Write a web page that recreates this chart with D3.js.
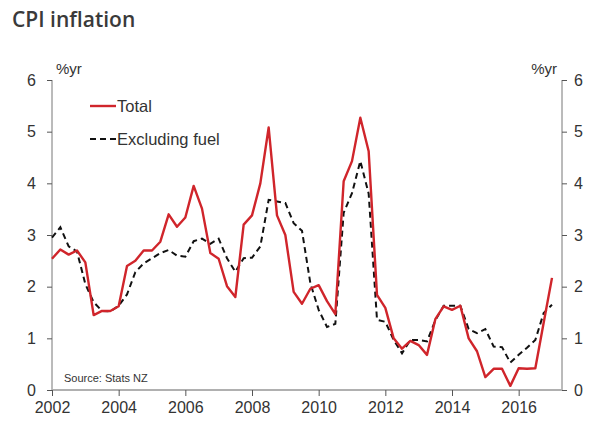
<!DOCTYPE html>
<html>
<head>
<meta charset="utf-8">
<script src="https://cdn.jsdelivr.net/npm/d3@7"></script>
<style>
	body { margin: 0; background: #fff; }
	text { font-family: "Liberation Sans", Arial, sans-serif; fill: #333; }
</style>
</head>
<body>
<svg id="chart" width="600" height="430"></svg>
<script>
// quarterly, first point is 2002 Q1
var startYear = 2002;
var yearTicks = [2002, 2004, 2006, 2008, 2010, 2012, 2014, 2016];
var valueTicks = [0, 1, 2, 3, 4, 5, 6];

var total = [
	2.54, 2.72, 2.62, 2.70,
	2.47, 1.45, 1.53, 1.53,
	1.62, 2.40, 2.50, 2.70,
	2.70, 2.87, 3.40, 3.16,
	3.34, 3.95, 3.51, 2.65,
	2.54, 2.01, 1.80, 3.20,
	3.38, 4.00, 5.08, 3.38,
	3.00, 1.90, 1.67, 1.96,
	2.03, 1.72, 1.47, 4.04,
	4.43, 5.27, 4.62, 1.84,
	1.59, 1.00, 0.80, 0.95,
	0.87, 0.68, 1.37, 1.62,
	1.55, 1.63, 1.00, 0.75,
	0.25, 0.41, 0.41, 0.08,
	0.42, 0.41, 0.42, 1.30,
	2.17
];

var exFuel = [
	2.95, 3.15, 2.78, 2.68,
	2.05, 1.70, 1.53, 1.52,
	1.63, 1.85, 2.28, 2.45,
	2.55, 2.65, 2.71, 2.60,
	2.58, 2.88, 2.93, 2.83,
	2.93, 2.55, 2.29, 2.55,
	2.56, 2.78, 3.68, 3.65,
	3.62, 3.23, 3.08, 2.07,
	1.55, 1.22, 1.28, 3.43,
	3.81, 4.43, 3.80, 1.36,
	1.32, 0.97, 0.71, 0.97,
	0.97, 0.94, 1.35, 1.63,
	1.63, 1.63, 1.18, 1.10,
	1.18, 0.84, 0.83, 0.53,
	0.68, 0.82, 0.97, 1.49,
	1.65
];

var svg = d3.select("#chart");
var plotL = 52, plotR = 562, plotT = 80, plotB = 390;

var x = d3.scaleLinear().domain([2002, 2017.3]).range([plotL, plotR]);
var y = d3.scaleLinear().domain([0, 6]).range([plotB, plotT]);

// title
svg.append("text")
	.attr("x", 12)
	.attr("y", 27)
	.text("CPI inflation")
	.style("font-family", "'Open Sans', sans-serif")
	.style("font-weight", 600)
	.style("font-size", "21px")
	.style("fill", "#3a3a3a");

// left axis
var yLeft = svg.append("g")
	.attr("transform", "translate(" + plotL + ",0)")
	.call(d3.axisLeft(y).tickValues(valueTicks).tickFormat(d3.format("d")).tickSize(5).tickPadding(11));
// right axis
var yRight = svg.append("g")
	.attr("transform", "translate(" + plotR + ",0)")
	.call(d3.axisRight(y).tickValues(valueTicks).tickFormat(d3.format("d")).tickSize(5).tickPadding(7));

[yLeft, yRight].forEach(function(g) {
	g.select(".domain").attr("stroke", "#777").attr("d", "M0," + plotT + "V" + plotB);
	g.selectAll(".tick line").attr("stroke", "#555");
	g.selectAll(".tick text")
		.style("font-size", "16px")
		.style("font-family", "'Liberation Sans', Arial, sans-serif")
		.attr("fill", "#333");
});

// bottom axis
var xAxis = svg.append("g")
	.attr("transform", "translate(0," + plotB + ")")
	.call(d3.axisBottom(x).tickValues(yearTicks).tickFormat(d3.format("d")).tickSize(6).tickPadding(6));
xAxis.select(".domain").attr("stroke", "#b0b0b0").attr("stroke-width", 2).attr("d", "M" + plotL + ",0H" + plotR);
xAxis.selectAll(".tick line").attr("stroke", "#555");
xAxis.selectAll(".tick text")
	.style("font-size", "16px")
	.style("font-family", "'Liberation Sans', Arial, sans-serif")
	.attr("fill", "#333");

// units
svg.append("text").attr("x", 56).attr("y", 74).text("%yr").style("font-size", "15px");
svg.append("text").attr("x", 557).attr("y", 74).attr("text-anchor", "end").text("%yr").style("font-size", "15px");

var line = d3.line()
	.x(function(d, i) { return x(startYear + i / 4); })
	.y(function(d) { return y(d); });

svg.append("path")
	.datum(exFuel)
	.attr("d", line)
	.attr("fill", "none")
	.attr("stroke", "#111")
	.attr("stroke-width", 2)
	.attr("stroke-dasharray", "6,4");

svg.append("path")
	.datum(total)
	.attr("d", line)
	.attr("fill", "none")
	.attr("stroke", "#d0252b")
	.attr("stroke-width", 2.4)
	.attr("stroke-linejoin", "round");

// legend
var legend = svg.append("g");
legend.append("line")
	.attr("x1", 90).attr("x2", 116).attr("y1", 106).attr("y2", 106)
	.attr("stroke", "#d0252b").attr("stroke-width", 2.4);
legend.append("text").attr("x", 117).attr("y", 112).text("Total").style("font-size", "16.5px");
legend.append("line")
	.attr("x1", 90).attr("x2", 116).attr("y1", 139).attr("y2", 139)
	.attr("stroke", "#111").attr("stroke-width", 2).attr("stroke-dasharray", "6,4");
legend.append("text").attr("x", 117).attr("y", 145).text("Excluding fuel").style("font-size", "16.5px");

// source
svg.append("text").attr("x", 64).attr("y", 382).text("Source: Stats NZ").style("font-size", "11px");
</script>
</body>
</html>
